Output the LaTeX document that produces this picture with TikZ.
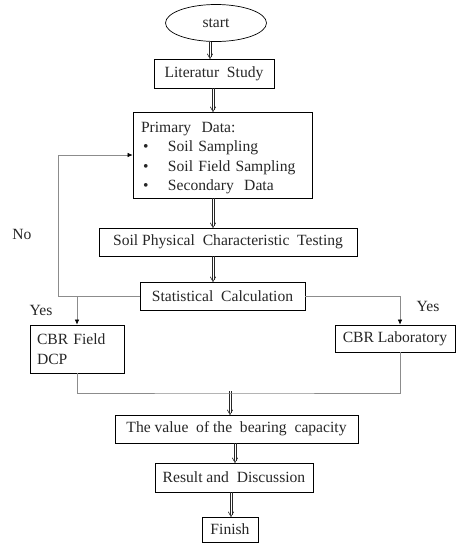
\documentclass[tikz,border=0pt]{standalone}
\usepackage{fontspec}
\setmainfont{Liberation Serif}
\usetikzlibrary{arrows.meta,shapes.geometric}
\newcommand\dblarr[2]{%
  \draw[dblline] ([xshift=-1.1pt]#1) -- ([xshift=-1.1pt,yshift=1.2pt]#2);
  \draw[dblline] ([xshift=1.1pt]#1) -- ([xshift=1.1pt,yshift=1.2pt]#2);
  \draw[dblline] ([xshift=-2.7pt,yshift=4.8pt]#2) -- (#2) -- ([xshift=2.7pt,yshift=4.8pt]#2);}
\begin{document}
\begin{tikzpicture}[x=1pt,y=-1pt,
  font=\fontsize{15.6}{19.5}\selectfont,
  box/.style={draw=black, line width=0.8pt, rectangle, inner sep=0pt, text=black!85},
  conn/.style={draw=black!45, line width=0.6pt},
  tipc/.style={-{Latex[length=5pt,width=4.5pt,black]}},
  dblline/.style={draw=black!85, line width=0.6pt, line join=miter},
  lbl/.style={inner sep=0pt, text=black!85}]
\useasboundingbox (0,0) rectangle (456,544);
\node[draw=black, line width=0.7pt, ellipse, minimum width=101pt, minimum height=37pt, inner sep=0pt, text=black!85] (start) at (216,23) {start};
\node[box, minimum width=120pt, minimum height=29pt] (lit) at (214,73.5) {Literatur\ \ Study};
\node[box, minimum width=179pt, minimum height=86pt, align=left, text width=163pt, inner xsep=8pt] (prim) at (222.5,155)
  {\rule{0pt}{16.5pt}Primary\ \ Data:\\
   \makebox[27pt][l]{\hspace{2pt}\textbullet}Soil Sampling\\
   \makebox[27pt][l]{\hspace{2pt}\textbullet}Soil Field Sampling\\
   \makebox[27pt][l]{\hspace{2pt}\textbullet}Secondary\ \ Data};
\node[box, minimum width=258pt, minimum height=28pt] (soil) at (228,242) {Soil Physical\ \ Characteristic\ \ Testing};
\node[box, minimum width=165pt, minimum height=28pt] (stat) at (222.5,296) {Statistical\ \ Calculation};
\node[box, minimum width=90pt, minimum height=48pt, align=left, text width=80pt, inner xsep=7pt] (field) at (77,349) {CBR Field\\DCP};
\node[box, minimum width=120pt, minimum height=27pt] (lab) at (395,338.5) {CBR Laboratory};
\node[box, minimum width=243pt, minimum height=28pt] (bear) at (236.5,429) {The value\ \ of the\ \ bearing\ \ capacity};
\node[box, minimum width=158pt, minimum height=29pt] (res) at (234,477.5) {Result and\ \ Discussion};
\node[box, minimum width=56pt, minimum height=25pt] (fin) at (230,529.5) {Finish};

\node[lbl] (no) at (22,234) {No};
\node[lbl] (yes1) at (41,310) {Yes};
\node[lbl] (yes2) at (428,306) {Yes};

\coordinate (ax1) at (210,0);
\coordinate (ax2) at (213,0);
\coordinate (lp) at (58,155);
\coordinate (m1) at (230,393);
\coordinate (ax3) at (235,0);
\coordinate (ax4) at (231,0);

\coordinate (a1s) at (start.south -| ax1); \coordinate (a1e) at (lit.north -| ax1);
\coordinate (a2s) at (lit.south -| ax2);   \coordinate (a2e) at (prim.north -| ax2);
\coordinate (a3s) at (prim.south -| ax2);  \coordinate (a3e) at (soil.north -| ax2);
\coordinate (a4s) at (soil.south -| ax2);  \coordinate (a4e) at (stat.north -| ax2);
\coordinate (a5s) at (230,391);            \coordinate (a5e) at (bear.north -| m1);
\coordinate (a6s) at (bear.south -| ax3);  \coordinate (a6e) at (res.north -| ax3);
\coordinate (a7s) at (res.south -| ax4);   \coordinate (a7e) at (fin.north -| ax4);

\dblarr{a1s}{a1e}
\dblarr{a2s}{a2e}
\dblarr{a3s}{a3e}
\dblarr{a4s}{a4e}
\dblarr{a5s}{a5e}
\dblarr{a6s}{a6e}
\dblarr{a7s}{a7e}

\draw[conn,tipc] (stat.west) -| (lp) -- (prim.west);
\draw[conn,tipc] (field.north |- stat.west) -- (field.north);
\draw[conn,tipc] (stat.east) -| ([xshift=5pt]lab.north);
\draw[conn] (field.south) |- (m1) -| ([xshift=5pt]lab.south);
\end{tikzpicture}
\end{document}
